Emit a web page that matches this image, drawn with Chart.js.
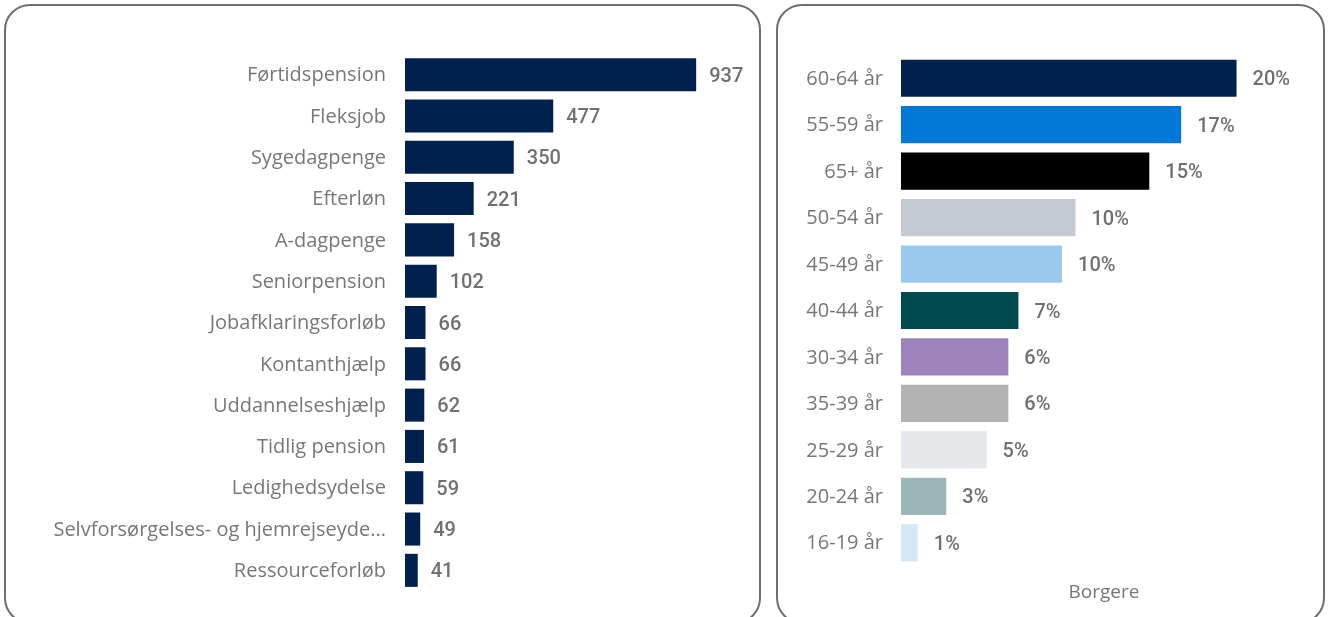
<!DOCTYPE html>
<html>
<head>
<meta charset="utf-8">
<script src="https://cdn.jsdelivr.net/npm/chart.js@4.4.1/dist/chart.umd.min.js"></script>
<style>
  body { margin: 0; background: #fff; width: 1329px; height: 617px; overflow: hidden; position: relative; }
  .panel { position: absolute; border: 2px solid #6e6e6e; border-radius: 26px; box-sizing: border-box; background: #fff; }
  #leftPanel { left: 4px; top: 4px; width: 757px; height: 620px; }
  #rightPanel { left: 776px; top: 4px; width: 549px; height: 620px; }
  .wrap { position: absolute; }
  #leftWrap { left: 6px; top: 6px; width: 752px; height: 610px; }
  #rightWrap { left: 778px; top: 6px; width: 544px; height: 610px; }
</style>
</head>
<body>
<div class="panel" id="leftPanel"></div>
<div class="panel" id="rightPanel"></div>
<div class="wrap" id="leftWrap"><canvas id="ydelseChart"></canvas></div>
<div class="wrap" id="rightWrap"><canvas id="alderChart"></canvas></div>
<script>
// Ydelser (antal borgere)
const ydelser = ['Førtidspension', 'Fleksjob', 'Sygedagpenge', 'Efterløn', 'A-dagpenge', 'Seniorpension',
    'Jobafklaringsforløb', 'Kontanthjælp', 'Uddannelseshjælp', 'Tidlig pension', 'Ledighedsydelse',
    'Selvforsørgelses- og hjemrejseyde...', 'Ressourceforløb'];
const ydelseAntal = [937, 477, 350, 221, 158, 102, 66, 66, 62, 61, 59, 49, 41];

// Aldersgrupper (andel af borgere, %)
const aldersgrupper = ['60-64 år', '55-59 år', '65+ år', '50-54 år', '45-49 år', '40-44 år',
    '30-34 år', '35-39 år', '25-29 år', '20-24 år', '16-19 år'];
const alderAndel = [20.0, 16.7, 14.8, 10.4, 9.6, 7.0, 6.4, 6.4, 5.1, 2.7, 1.0];
const alderFarver = ['#00204e', '#0078d7', '#000000', '#c3cad2', '#9bc8ef', '#004a50',
    '#9e82bc', '#b3b3b3', '#e5e8eb', '#9bb6b8', '#d5e6f6'];

const labelFont = { family: "'Open Sans', sans-serif", size: 20 };
const labelColor = '#777777';

// draws the value next to each bar
const valueLabels = {
    id: 'valueLabels',
    afterDatasetsDraw(chart, args, opts) {
        const ctx = chart.ctx;
        const meta = chart.getDatasetMeta(0);
        const data = chart.data.datasets[0].data;
        ctx.save();
        ctx.font = "500 20px Roboto, sans-serif";
        ctx.fillStyle = '#707070';
        ctx.textAlign = 'left';
        ctx.textBaseline = 'middle';
        meta.data.forEach((bar, i) => {
            ctx.fillText(opts.format(data[i]), bar.x + opts.offset, bar.y + 2);
        });
        ctx.restore();
    }
};

// fixed width for the category axis, no extra label padding
const fixAxis = width => scale => {
    scale.width = width;
    scale.paddingTop = 0;
    scale.paddingBottom = 0;
};

new Chart(document.getElementById('ydelseChart'), {
    type: 'bar',
    data: {
        labels: ydelser,
        datasets: [{
            data: ydelseAntal,
            backgroundColor: '#00204e',
            barPercentage: 0.8,
            categoryPercentage: 1
        }]
    },
    options: {
        indexAxis: 'y',
        responsive: true,
        maintainAspectRatio: false,
        animation: false,
        layout: { padding: { top: 48, bottom: 25, left: 0, right: 0 } },
        plugins: {
            legend: { display: false },
            tooltip: { enabled: false },
            valueLabels: { offset: 13, format: v => String(v) }
        },
        scales: {
            x: { display: false, min: 0, max: 1136 },
            y: {
                grid: { display: false, drawTicks: false },
                border: { display: false },
                ticks: { color: labelColor, font: labelFont, padding: 19, labelOffset: 1 },
                afterFit: fixAxis(399)
            }
        }
    },
    plugins: [valueLabels]
});

new Chart(document.getElementById('alderChart'), {
    type: 'bar',
    data: {
        labels: aldersgrupper,
        datasets: [{
            data: alderAndel,
            backgroundColor: alderFarver,
            barPercentage: 0.8,
            categoryPercentage: 1
        }]
    },
    options: {
        indexAxis: 'y',
        responsive: true,
        maintainAspectRatio: false,
        animation: false,
        layout: { padding: { top: 49, bottom: 12, left: 0, right: 15 } },
        plugins: {
            legend: { display: false },
            tooltip: { enabled: false },
            valueLabels: { offset: 16, format: v => Math.round(v) + '%' }
        },
        scales: {
            x: {
                min: 0,
                max: 24.2,
                grid: { display: false, drawTicks: false },
                border: { display: false },
                ticks: { display: false },
                title: {
                    display: true,
                    text: 'Borgere',
                    color: labelColor,
                    font: { family: "'Open Sans', sans-serif", size: 19 },
                    padding: 0
                },
                afterFit: scale => { scale.height = 38; }
            },
            y: {
                grid: { display: false, drawTicks: false },
                border: { display: false },
                ticks: { color: labelColor, font: labelFont, padding: 18, labelOffset: 1 },
                afterFit: fixAxis(123)
            }
        }
    },
    plugins: [valueLabels]
});
</script>
</body>
</html>
